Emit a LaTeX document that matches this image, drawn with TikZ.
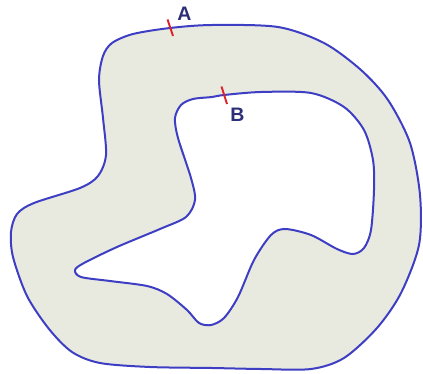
\documentclass[tikz,border=0pt]{standalone}
\usepackage{fontspec}
\setmainfont{Liberation Sans}
\usepackage{tikz}
\usetikzlibrary{positioning}

\definecolor{rimblue}{RGB}{62,62,196}
\definecolor{cutred}{RGB}{222,32,40}
\definecolor{lblnavy}{RGB}{44,46,120}
\definecolor{ringfill}{RGB}{232,234,223}

\begin{document}
\begin{tikzpicture}[
  x=1pt, y=-1pt,
  rim/.style={draw=rimblue, line width=2pt},
  cut/.style={draw=cutred, line width=1.9pt},
  lbl/.style={text=lblnavy, font=\bfseries\fontsize{19.5}{19.5}\selectfont, inner sep=0pt}
]
\useasboundingbox (0,0) rectangle (423,374);
% region between the two boundaries
\path[fill=ringfill, even odd rule]
  plot[smooth cycle] coordinates {(170,28) (212,25) (278,27) (324,43) (361,70)
    (388,100) (410,143) (420,195) (419,245) (401,293) (377,328) (344,358)
    (311,369) (261,369) (212,368) (150,367) (100,363) (72,352) (49,329)
    (27,296) (13,257) (11,232) (17,214) (34,203) (80,188) (98,176)
    (106,155) (103,118) (99,80) (103,56) (112,43) (133,34)}
  plot[smooth cycle] coordinates {(224,95) (261,92) (311,93) (344,107) (364,130)
    (373,160) (374,190) (371,230) (364,248) (353,254) (337,249) (311,235)
    (285,229) (271,235) (254,260) (238,297) (224,318) (211,325) (199,323)
    (187,310) (167,294) (147,286) (110,281) (81,277) (75,270) (84,263)
    (117,247) (160,229) (186,217) (195,200) (191,178) (178,138)
    (175,118) (181,105) (193,99) (212,97)};
% outer boundary
\draw[rim] plot[smooth cycle] coordinates {(170,28) (212,25) (278,27) (324,43)
  (361,70) (388,100) (410,143) (420,195) (419,245) (401,293) (377,328)
  (344,358) (311,369) (261,369) (212,368) (150,367) (100,363) (72,352)
  (49,329) (27,296) (13,257) (11,232) (17,214) (34,203) (80,188) (98,176)
  (106,155) (103,118) (99,80) (103,56) (112,43) (133,34)};
% inner boundary
\draw[rim] plot[smooth cycle] coordinates {(224,95) (261,92) (311,93) (344,107)
  (364,130) (373,160) (374,190) (371,230) (364,248) (353,254) (337,249)
  (311,235) (285,229) (271,235) (254,260) (238,297) (224,318) (211,325)
  (199,323) (187,310) (167,294) (147,286) (110,281) (81,277) (75,270)
  (84,263) (117,247) (160,229) (186,217) (195,200) (191,178) (178,138)
  (175,118) (181,105) (193,99) (212,97)};
% cuts
\coordinate (a1) at (167.5,19.5);
\coordinate (a2) at (173,36);
\coordinate (b1) at (221.5,86.5);
\coordinate (b2) at (227,104);
\draw[cut] (a1) -- (a2);
\draw[cut] (b1) -- (b2);
\node[lbl] (A) at (184.5,13.5) {A};
\node[lbl] (B) at (237.5,114.5) {B};
\end{tikzpicture}
\end{document}
